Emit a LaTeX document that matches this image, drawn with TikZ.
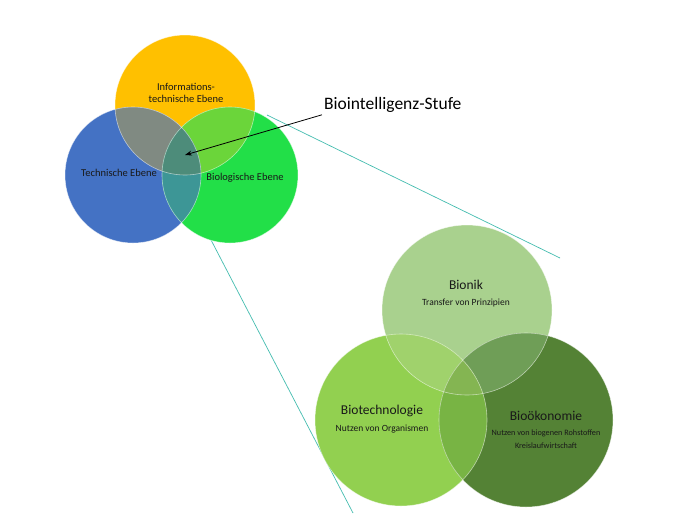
\documentclass[tikz,border=0pt]{standalone}
\usepackage{fontspec}
\setmainfont{Carlito}
\usepackage{tikz}
\usetikzlibrary{arrows.meta}

\definecolor{infoorange}{HTML}{FFC000}
\definecolor{technblue}{HTML}{4472C4}
\definecolor{biogreen}{HTML}{22DF48}
\definecolor{ovIT}{HTML}{808A82}
\definecolor{ovIB}{HTML}{6BD53A}
\definecolor{ovTB}{HTML}{3D9696}
\definecolor{ovITB}{HTML}{4D8C7A}
\definecolor{bionikgreen}{HTML}{A9D18E}
\definecolor{biotechgreen}{HTML}{92D050}
\definecolor{biooekgreen}{HTML}{548235}
\definecolor{ovNT}{HTML}{A0D26C}
\definecolor{ovNO}{HTML}{6F9E57}
\definecolor{ovTO}{HTML}{78B444}
\definecolor{ovNTO}{HTML}{84B552}
\definecolor{zoomcolor}{HTML}{45BDB0}

\tikzset{
  rim/.style={draw=white, draw opacity=0.55, line width=0.6pt},
  lbl/.style={font=\fontsize{10.5}{12}\selectfont, align=center, text=black!90, inner sep=0pt},
  head/.style={font=\fontsize{13.5}{15}\selectfont, text=black!90, inner sep=0pt},
  sub/.style={font=\fontsize{9.5}{13}\selectfont, align=center, text=black!90, inner sep=0pt},
  zoomline/.style={draw=zoomcolor, line width=0.7pt},
}

\begin{document}
\begin{tikzpicture}[x=1pt, y=-1pt]
  \useasboundingbox[fill=white] (0,0) rectangle (698,531);

  % circle centres
  \coordinate (info) at (185,105);
  \coordinate (techn) at (133,175);
  \coordinate (bio) at (230,175);
  \coordinate (bionik) at (467,310);
  \coordinate (biotech) at (401,420);
  \coordinate (biooek) at (526,420);

  % zoom lines
  \coordinate (za) at (267,115);
  \coordinate (zb) at (560,258);
  \coordinate (zc) at (210,238);
  \coordinate (zd) at (353,513);
  \draw[zoomline] (za) -- (zb);
  \draw[zoomline] (zc) -- (zd);

  % Small Venn
  \fill[infoorange] (info) circle (70pt);
  \fill[technblue] (techn) circle (68pt);
  \fill[biogreen] (bio) circle (68pt);
  \begin{scope}
    \clip (info) circle (70pt);
    \fill[ovIT] (techn) circle (68pt);
    \fill[ovIB] (bio) circle (68pt);
    \clip (techn) circle (68pt);
    \fill[ovITB] (bio) circle (68pt);
  \end{scope}
  \begin{scope}
    \clip (techn) circle (68pt);
    \clip (bio) circle (68pt);
    \fill[ovTB] (bio) circle (68pt);
    \clip (info) circle (70pt);
    \fill[ovITB] (bio) circle (68pt);
  \end{scope}
  \draw[rim] (info) circle (70pt);
  \draw[rim] (techn) circle (68pt);
  \draw[rim] (bio) circle (68pt);

  % Large Venn
  \fill[bionikgreen] (bionik) circle (85pt);
  \fill[biotechgreen] (biotech) circle (86pt);
  \fill[biooekgreen] (biooek) circle (87pt);
  \begin{scope}
    \clip (bionik) circle (85pt);
    \fill[ovNT] (biotech) circle (86pt);
    \fill[ovNO] (biooek) circle (87pt);
    \clip (biotech) circle (86pt);
    \fill[ovNTO] (biooek) circle (87pt);
  \end{scope}
  \begin{scope}
    \clip (biotech) circle (86pt);
    \clip (biooek) circle (87pt);
    \fill[ovTO] (biooek) circle (87pt);
    \clip (bionik) circle (85pt);
    \fill[ovNTO] (biooek) circle (87pt);
  \end{scope}
  \draw[rim] (bionik) circle (85pt);
  \draw[rim] (biotech) circle (86pt);
  \draw[rim] (biooek) circle (87pt);

  % labels small Venn
  \node[lbl] (infotext) at (186,93) {Informations-\\technische Ebene};
  \node[lbl] (techntext) at (119,173) {Technische Ebene};
  \node[lbl] (biotext) at (245,178) {Biologische Ebene};

  % labels large Venn
  \node[head] (bioniktitle) at (466,285) {Bionik};
  \node[sub] (bioniksub) at (466,303) {Transfer von Prinzipien};
  \node[head] (biotechtitle) at (382,411) {Biotechnologie};
  \node[sub] (biotechsub) at (382,429) {Nutzen von Organismen};
  \node[head] (biooektitle) at (546,416) {Bioökonomie};
  \node[sub, font=\fontsize{8.2}{13}\selectfont] (biooeksub) at (546,439.5) {Nutzen von biogenen Rohstoffen\\Kreislaufwirtschaft};

  % Biointelligenz
  \coordinate (kern) at (185,155);
  \node[anchor=west, font=\fontsize{17.5}{19}\selectfont, inner sep=2pt] (stufe) at (322,105) {Biointelligenz-Stufe};
  \draw[line width=0.8pt, -{Stealth[length=7pt, width=5pt]}] (stufe.south west) -- (kern);
\end{tikzpicture}
\end{document}
